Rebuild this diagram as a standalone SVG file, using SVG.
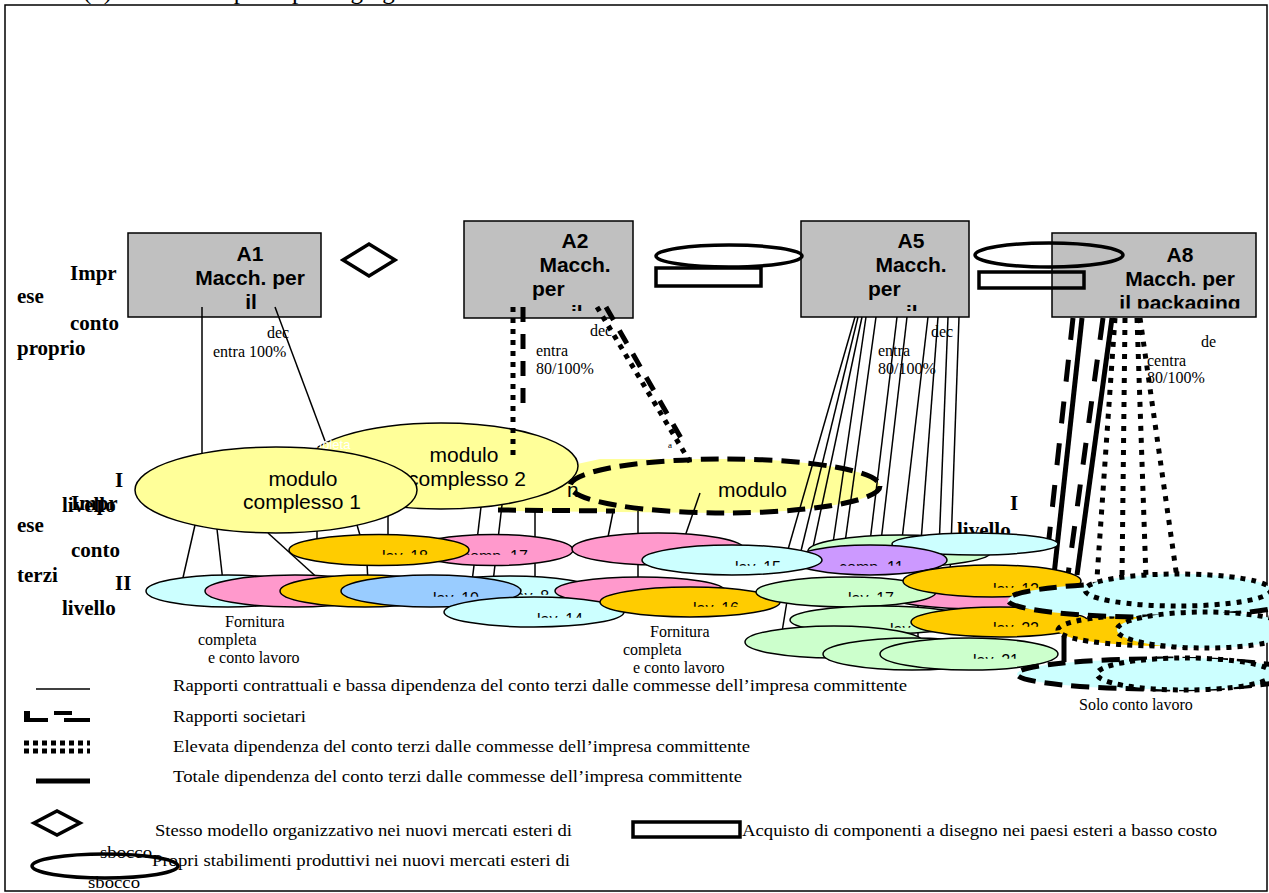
<svg xmlns="http://www.w3.org/2000/svg" width="1269" height="893" viewBox="0 0 1269 893">
<style>
.box{fill:#C0C0C0;stroke:#000;stroke-width:1.5}
.bt{font-family:"Liberation Sans",Arial,sans-serif;font-weight:bold;font-size:21px;fill:#000}
.lbl{font-family:"Liberation Serif","Times New Roman",serif;font-weight:bold;font-size:21px;fill:#000}
.sm{font-family:"Liberation Serif","Times New Roman",serif;font-size:16px;fill:#000}
.lg{font-family:"Liberation Serif","Times New Roman",serif;font-size:16px;fill:#000}
.mt{font-family:"Liberation Sans",Arial,sans-serif;font-size:21px;fill:#000}
.et{font-family:"Liberation Sans",Arial,sans-serif;font-size:16px;fill:#000}
.thin{stroke:#000;stroke-width:1.5;fill:none}
.dot{stroke:#000;stroke-width:5;stroke-dasharray:5 6;fill:none}
.dot8{stroke:#000;stroke-width:5;stroke-dasharray:5 7;fill:none}
.dash{stroke:#000;stroke-width:5;stroke-dasharray:15 12;fill:none}
.dash8{stroke:#000;stroke-width:5;stroke-dasharray:22 20;fill:none}
.thick{stroke:#000;stroke-width:5;fill:none}
.e{stroke:#000;stroke-width:1.5}
.edash{stroke:#000;stroke-width:5;stroke-dasharray:18 9}
.edot{stroke:#000;stroke-width:5;stroke-dasharray:5 6}
.sym{fill:none;stroke:#000;stroke-width:3.5}
.y{fill:#FFFF99}.c{fill:#CCFFFF}.p{fill:#FF99CC}.o{fill:#FFCC00}.b{fill:#99CCFF}.g{fill:#CCFFCC}.v{fill:#CC99FF}
</style>
<defs>
<clipPath id="half" clipPathUnits="objectBoundingBox"><rect x="-0.05" y="0" width="1.1" height="0.42"/></clipPath>
<clipPath id="cA2"><rect x="464" y="221" width="169" height="90"/></clipPath>
<clipPath id="cA5"><rect x="801" y="221" width="168" height="90"/></clipPath>
<clipPath id="cA8"><rect x="1052" y="233" width="204" height="75.5"/></clipPath>
</defs>
<rect x="0" y="0" width="1269" height="893" fill="#fff"/>
<text x="83" y="-1" font-family="Liberation Serif, serif" font-size="25">(b)<tspan x="129">Macchine per il packaging</tspan></text>
<rect id="frame" x="5" y="5" width="1262" height="886" fill="none" stroke="#000" stroke-width="1.5"/>

<g id="A1"><rect class="box" x="128" y="233" width="193" height="84"/>
<text class="bt" text-anchor="middle" x="250" y="261">A1</text>
<text class="bt" text-anchor="middle" x="250" y="285">Macch. per</text>
<text class="bt" text-anchor="middle" x="251" y="309">il</text></g>
<g id="A2"><rect class="box" x="464" y="221" width="169" height="97"/>
<text class="bt" text-anchor="middle" x="575" y="248">A2</text>
<text class="bt" text-anchor="middle" x="575" y="272">Macch.</text>
<text class="bt" x="532" y="296">per</text>
<text class="bt" x="571" y="320" clip-path="url(#cA2)">il</text></g>
<g id="A5"><rect class="box" x="801" y="221" width="168" height="96"/>
<text class="bt" text-anchor="middle" x="911" y="248">A5</text>
<text class="bt" text-anchor="middle" x="911" y="272">Macch.</text>
<text class="bt" x="868" y="296">per</text>
<text class="bt" x="906" y="320" clip-path="url(#cA5)">il</text></g>
<g id="A8"><rect class="box" x="1052" y="233" width="204" height="84"/>
<text class="bt" text-anchor="middle" x="1180" y="262">A8</text>
<text class="bt" text-anchor="middle" x="1180" y="286">Macch. per</text>
<text class="bt" text-anchor="middle" x="1180" y="310" clip-path="url(#cA8)">il packaging</text></g>

<g id="markers-top">
<polygon class="sym" fill="#fff" points="343,260 369,244 395,260 369,276"/>
<ellipse class="sym" stroke-width="3" cx="729" cy="256" rx="73" ry="11"/>
<rect class="sym" stroke-width="3" x="656" y="268" width="105" height="18"/>
<ellipse class="sym" stroke-width="3" cx="1049" cy="255" rx="74" ry="12"/>
<rect class="sym" stroke-width="3" x="979" y="272" width="105" height="16"/>
</g>

<g id="labels">
<text class="lbl" x="70" y="280">Impr</text>
<text class="lbl" x="17" y="303">ese</text>
<text class="lbl" x="70" y="330">conto</text>
<text class="lbl" x="17" y="355">proprio</text>
<text class="lbl" x="115" y="487">I</text>
<text class="lbl" x="62" y="512">livello</text>
<text class="lbl" x="71" y="510">Impr</text>
<text class="lbl" x="17" y="532">ese</text>
<text class="lbl" x="71" y="557">conto</text>
<text class="lbl" x="17" y="582">terzi</text>
<text class="lbl" x="115" y="590">II</text>
<text class="lbl" x="62" y="615">livello</text>
<text class="lbl" x="1010" y="510">I</text>
<text class="lbl" x="957" y="537">livello</text>
<text class="sm" x="267" y="338">dec</text>
<text class="sm" x="213" y="357">entra 100%</text>
<text class="sm" x="590" y="336">dec</text>
<text class="sm" x="536" y="356">entra</text>
<text class="sm" x="536" y="374">80/100%</text>
<text class="sm" x="931" y="337">dec</text>
<text class="sm" x="878" y="356">entra</text>
<text class="sm" x="878" y="374">80/100%</text>
<text class="sm" x="1201" y="347">de</text>
<text class="sm" x="1147" y="366">centra</text>
<text class="sm" x="1147" y="383">80/100%</text>
<text class="sm" x="225" y="627">Fornitura</text>
<text class="sm" x="198" y="645">completa</text>
<text class="sm" x="208" y="663">e conto lavoro</text>
<text class="sm" x="650" y="637">Fornitura</text>
<text class="sm" x="623" y="655">completa</text>
<text class="sm" x="633" y="673">e conto lavoro</text>
<text class="sm" x="1079" y="710">Solo conto lavoro</text>
</g>

<g id="modulo3">
<path class="y" d="M498,511 L725,513 A155,27 0 0 0 725,459 L600,459 Q560,468 498,480 Z"/>
</g>
<g id="modulo2">
<ellipse class="y e" cx="441" cy="466" rx="137" ry="43"/>
<text class="mt" text-anchor="middle" x="464" y="462">modulo</text>
<text class="mt" text-anchor="middle" x="467" y="486">complesso 2</text>
</g>
<text x="242" y="449" font-family="Liberation Sans, Arial, sans-serif" font-size="13" fill="#fff">Fornitura completa</text>
<g id="modulo1">
<ellipse class="y e" cx="276" cy="490" rx="141" ry="43"/>
<text class="mt" text-anchor="middle" x="303" y="486">modulo</text>
<text class="mt" text-anchor="middle" x="302" y="509">complesso 1</text>
</g>
<g id="modulo3-outline">
<ellipse class="edash" fill="none" stroke-dasharray="21 12" cx="725" cy="486" rx="155" ry="27"/>
<line class="edash" stroke-dasharray="20 12" x1="498" y1="510" x2="615" y2="511"/>
<text class="mt" x="718" y="497">modulo</text>
<text class="mt" font-size="19" x="567" y="497">n.</text>
<text x="668" y="448" font-family="Liberation Serif, serif" font-size="9">a</text>
</g>

<g id="connectors">
<line class="thin" x1="202" y1="307" x2="202" y2="453"/>
<line class="thin" x1="275" y1="307" x2="325" y2="441"/>
<line class="dot" x1="513" y1="307" x2="513" y2="455"/>
<line class="dash" x1="523" y1="307" x2="523" y2="414"/>
<line class="dot" x1="597" y1="307" x2="690" y2="462"/>
<line class="dash" x1="606" y1="307" x2="681" y2="438"/>
<line class="thin" x1="855" y1="317" x2="785" y2="560"/>
<line class="thin" x1="858" y1="317" x2="800" y2="555"/>
<line class="thin" x1="862" y1="317" x2="812" y2="552"/>
<line class="thin" x1="866" y1="317" x2="832" y2="550"/>
<line class="thin" x1="876" y1="317" x2="844" y2="550"/>
<line class="thin" x1="897" y1="317" x2="869" y2="550"/>
<line class="thin" x1="907" y1="317" x2="880" y2="550"/>
<line class="thin" x1="928" y1="317" x2="901" y2="548"/>
<line class="thin" x1="938" y1="317" x2="920" y2="555"/>
<line class="thin" x1="948" y1="317" x2="938" y2="575"/>
<line class="thin" x1="959" y1="317" x2="950" y2="575"/>
<line class="dash8" x1="1073" y1="318" x2="1045" y2="575"/>
<line class="thick" x1="1082" y1="318" x2="1054" y2="575"/>
<line class="dash8" x1="1103" y1="318" x2="1068" y2="575"/>
<line class="thick" x1="1112" y1="318" x2="1077" y2="575"/>
<line class="dot8" x1="1115" y1="318" x2="1097" y2="578"/>
<line class="dot8" x1="1125" y1="318" x2="1122" y2="578"/>
<line class="dot8" x1="1137" y1="318" x2="1146" y2="578"/>
<line class="dot8" x1="1140" y1="318" x2="1177" y2="578"/>
<line class="thin" x1="195" y1="525" x2="182" y2="582"/>
<line class="thin" x1="217" y1="529" x2="223" y2="582"/>
<line class="thin" x1="268" y1="533" x2="322" y2="582"/>
<line class="thin" x1="317" y1="531" x2="317" y2="542"/>
<line class="thin" x1="357" y1="525" x2="362" y2="542"/>
<line class="thin" x1="388" y1="516" x2="388" y2="542"/>
<line class="thin" x1="366" y1="545" x2="368" y2="582"/>
<line class="thin" x1="481" y1="507" x2="472" y2="582"/>
<line class="thin" x1="502" y1="505" x2="493" y2="582"/>
<line class="thin" x1="535" y1="512" x2="535" y2="582"/>
<line class="thin" x1="613" y1="512" x2="607" y2="542"/>
<line class="thin" x1="638" y1="511" x2="638" y2="582"/>
<line class="thin" x1="700" y1="493" x2="683" y2="542"/>
<line class="thin" x1="788" y1="595" x2="782" y2="632"/>
<line class="thin" x1="866" y1="600" x2="866" y2="640"/>
<line class="thin" x1="918" y1="600" x2="918" y2="645"/>
</g>

<g id="row-nodes">
<g id="n-green-f"><ellipse class="g e" cx="900" cy="551" rx="92" ry="16"/></g>
<g id="n-cyan-g"><ellipse class="c e" cx="975" cy="544" rx="83" ry="11"/></g>
<g id="n-comp17"><ellipse class="p e" cx="493" cy="550" rx="80" ry="15.5"/><text class="et" x="462" y="561.5" clip-path="url(#half)">comp. 17</text></g>
<g id="n-lav18"><ellipse class="o e" cx="379" cy="550" rx="90" ry="15.5"/><text class="et" x="382" y="561.5" clip-path="url(#half)">lav. 18</text></g>
<g id="n-pink-c"><ellipse class="p e" cx="658" cy="549" rx="86" ry="16"/></g>
<g id="n-comp11"><ellipse class="v e" cx="870" cy="560" rx="77" ry="15"/><text class="et" x="839" y="572.5" clip-path="url(#half)">comp. 11</text></g>
<g id="n-lav15"><ellipse class="c e" cx="732" cy="560" rx="90" ry="15"/><text class="et" x="735" y="572.5" clip-path="url(#half)">lav. 15</text></g>
<g id="n-cyan-h"><ellipse class="c e" cx="228" cy="591" rx="82" ry="16"/></g>
<g id="n-pink-i"><ellipse class="p e" cx="295" cy="591" rx="90" ry="16"/></g>
<g id="n-orange-j"><ellipse class="o e" cx="365" cy="591" rx="85" ry="16"/></g>
<g id="n-lav8"><ellipse class="c e" cx="510" cy="590" rx="83" ry="14"/><text class="et" x="512" y="601.5" clip-path="url(#half)">lav. 8</text></g>
<g id="n-lav10"><ellipse class="b e" cx="431" cy="591" rx="90" ry="16"/><text class="et" x="433" y="603.5" clip-path="url(#half)">lav. 10</text></g>
<g id="n-pink-m"><ellipse class="p e" cx="640" cy="591" rx="85" ry="14"/></g>
<g id="n-lav14"><ellipse class="c e" cx="534" cy="612" rx="90" ry="15"/><text class="et" x="537" y="624.5" clip-path="url(#half)">lav. 14</text></g>
<g id="n-lav16"><ellipse class="o e" cx="690" cy="602" rx="90" ry="15"/><text class="et" x="693" y="613.5" clip-path="url(#half)">lav. 16</text></g>
<g id="n-pink-q"><ellipse class="p e" cx="985" cy="597" rx="95" ry="12"/></g>
<g id="n-lav17"><ellipse class="g e" cx="846" cy="592" rx="90" ry="15"/><text class="et" x="848" y="603.5" clip-path="url(#half)">lav. 17</text></g>
<g id="n-lav12"><ellipse class="o e" cx="992" cy="581" rx="89" ry="16"/><text class="et" x="993" y="594.5" clip-path="url(#half)">lav. 12</text></g>
<g id="n-green-t"><ellipse class="g e" cx="880" cy="620" rx="90" ry="14"/><text class="et" x="890" y="634.5" clip-path="url(#half)">lav.</text></g>
<g id="n-lav22"><ellipse class="o e" cx="1000" cy="622" rx="89" ry="15"/><text class="et" x="993" y="633.5" clip-path="url(#half)">lav. 22</text></g>
<g id="n-green-u"><ellipse class="g e" cx="834" cy="642" rx="89" ry="16"/></g>
<g id="n-green-v"><ellipse class="g e" cx="912" cy="654" rx="89" ry="16"/></g>
<g id="n-lav21"><ellipse class="g e" cx="969" cy="654" rx="89" ry="16"/><text class="et" x="973" y="665.5" clip-path="url(#half)">lav. 21</text></g>
</g>

<g id="right-cluster">
<g id="n-dot2"><ellipse class="o edot" cx="1165" cy="630" rx="107" ry="16"/></g>
<g id="n-dash1"><ellipse class="c edash" cx="1150" cy="600" rx="142" ry="17"/></g>
<g id="n-dot1"><ellipse class="c edot" cx="1178" cy="590" rx="93" ry="16"/></g>
<g id="n-dot3"><ellipse class="c edot" cx="1205" cy="630" rx="88" ry="18"/></g>
<line class="thick" x1="1064" y1="637" x2="1064" y2="662"/>
<g id="n-dash2"><ellipse class="c edash" cx="1160" cy="674" rx="143" ry="15"/></g>
<g id="n-dot4"><ellipse class="c edot" cx="1185" cy="674" rx="88" ry="16"/></g>
</g>

<g id="legend">
<line class="thin" x1="36" y1="689" x2="90" y2="689"/>
<text class="lg" x="173" y="691" textLength="734" lengthAdjust="spacingAndGlyphs">Rapporti contrattuali e bassa dipendenza del conto terzi dalle commesse dell’impresa committente</text>
<g id="lg-dash" fill="#000"><rect x="24" y="711" width="6" height="11"/><rect x="24" y="718" width="24" height="4"/><rect x="54" y="711" width="18" height="4"/><rect x="64" y="718" width="26" height="4"/></g>
<text class="lg" x="173" y="722" textLength="133" lengthAdjust="spacingAndGlyphs">Rapporti societari</text>
<line class="thick" stroke-width="4" stroke-dasharray="5 4" x1="24" y1="743" x2="90" y2="743"/>
<line class="thick" stroke-width="4" stroke-dasharray="5 4" x1="24" y1="751" x2="90" y2="751"/>
<text class="lg" x="173" y="752" textLength="577" lengthAdjust="spacingAndGlyphs">Elevata dipendenza del conto terzi dalle commesse dell’impresa committente</text>
<line class="thick" stroke-width="6" x1="36" y1="781" x2="90" y2="781"/>
<text class="lg" x="173" y="782" textLength="569" lengthAdjust="spacingAndGlyphs">Totale dipendenza del conto terzi dalle commesse dell’impresa committente</text>
<polygon class="sym" fill="#fff" points="34,823 57,811 80,823 57,835"/>
<text class="lg" x="155" y="836" textLength="417" lengthAdjust="spacingAndGlyphs">Stesso modello organizzativo nei nuovi mercati esteri di</text>
<rect class="sym" stroke-width="4.5" x="633" y="822" width="107" height="15"/>
<text class="lg" x="742" y="836" textLength="475" lengthAdjust="spacingAndGlyphs">Acquisto di componenti a disegno nei paesi esteri a basso costo</text>
<text class="lg" x="100" y="858" textLength="52" lengthAdjust="spacingAndGlyphs">sbocco</text>
<text class="lg" x="152" y="866" textLength="418" lengthAdjust="spacingAndGlyphs">Propri stabilimenti produttivi nei nuovi mercati esteri di</text>
<text class="lg" x="88" y="888" textLength="52" lengthAdjust="spacingAndGlyphs">sbocco</text>
<ellipse class="sym" cx="105" cy="866" rx="73" ry="12"/>
</g>
</svg>
